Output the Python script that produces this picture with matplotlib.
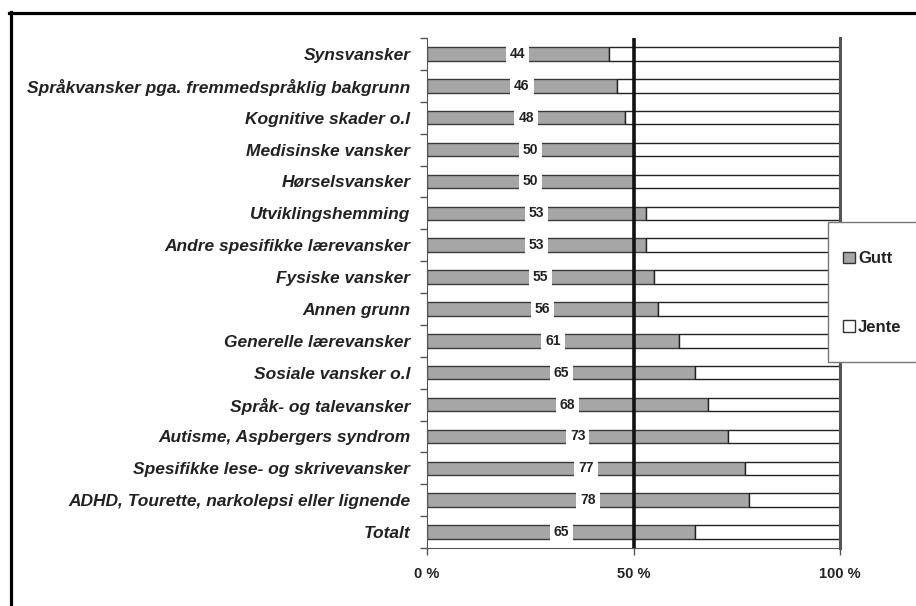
import matplotlib
matplotlib.use("Agg")
import matplotlib.pyplot as plt
from matplotlib.patches import Rectangle, Patch
from matplotlib.lines import Line2D
import numpy as np

categories = [
    "Synsvansker",
    "Språkvansker pga. fremmedspråklig bakgrunn",
    "Kognitive skader o.l",
    "Medisinske vansker",
    "Hørselsvansker",
    "Utviklingshemming",
    "Andre spesifikke lærevansker",
    "Fysiske vansker",
    "Annen grunn",
    "Generelle lærevansker",
    "Sosiale vansker o.l",
    "Språk- og talevansker",
    "Autisme, Aspbergers syndrom",
    "Spesifikke lese- og skrivevansker",
    "ADHD, Tourette, narkolepsi eller lignende",
    "Totalt",
]
gutt = [44, 46, 48, 50, 50, 53, 53, 55, 56, 61, 65, 68, 73, 77, 78, 65]
jente = [56, 54, 52, 50, 50, 47, 47, 45, 44, 39, 35, 32, 27, 23, 22, 35]
xticks = [0, 50, 100]
xticklabels = ["0 %", "50 %", "100 %"]
series_names = ["Gutt", "Jente"]

plt.rcParams['font.family'] = ['Liberation Sans', 'DejaVu Sans']
TXT = "#222222"

fig = plt.figure(figsize=(9.16, 6.06), dpi=100)
ax = fig.add_axes([427/916, 1-548/606, (840-427)/916, (548-38)/606])

n = len(categories)
y = np.arange(n)
h = 0.42
ax.barh(y, gutt, height=h, color="#a6a6a6", edgecolor="#3a3a3a", linewidth=1.0, zorder=2)
ax.barh(y, jente, left=gutt, height=h, color="white", edgecolor="#222222", linewidth=1.0, zorder=2)

for yi, g in zip(y, gutt):
    ax.text(g/2, yi, f"{g}", ha="center", va="center", fontsize=10, fontweight="bold",
            color=TXT, zorder=4,
            bbox=dict(boxstyle="square,pad=0.28", facecolor="white", edgecolor="none"))

ax.axvline(50, color="#111111", linewidth=2.6, zorder=3)

ax.set_xlim(0, 100)
ax.set_ylim(n - 0.5, -0.5)

ax.set_xticks(xticks)
ax.set_xticklabels(xticklabels, fontsize=10.5, fontweight="bold", color=TXT)
ax.tick_params(axis="x", length=5, width=1, color="#555555", pad=9)

ax.set_yticks(np.arange(-0.5, n, 1.0))
ax.set_yticklabels([])
ax.tick_params(axis="y", which="major", length=5, width=1, color="#555555")
ax.set_yticks(y, minor=True)
ax.set_yticklabels(categories, minor=True, fontsize=12.5, fontweight="bold",
                   fontstyle="italic", color=TXT)
ax.tick_params(axis="y", which="minor", length=0, pad=12)

ax.spines["top"].set_visible(False)
ax.spines["left"].set_color("#555555")
ax.spines["bottom"].set_color("#555555")
ax.spines["right"].set_color("#555555")
ax.spines["right"].set_linewidth(2.2)

# Legend box (extends past figure edge)
fig.patches.append(Rectangle((828/916, 1-362/606), 0.2, 140/606, transform=fig.transFigure,
                             facecolor="white", edgecolor="#777777", linewidth=1.0, zorder=5))
handles = [Patch(facecolor="#a6a6a6", edgecolor="#333333"),
           Patch(facecolor="white", edgecolor="#333333")]
leg = fig.legend(handles, series_names, loc="center left", bbox_to_anchor=(843/916, 1-293/606),
                 frameon=False, fontsize=12, handlelength=0.7, handleheight=0.7,
                 handletextpad=0.2, labelspacing=3.2, borderaxespad=0, borderpad=0)
for t in leg.get_texts():
    t.set_fontweight("bold")
    t.set_color(TXT)
leg.set_zorder(6)

# Outer frame fragments
fig.add_artist(Line2D([9/916, 1.0], [1-13/606, 1-13/606], transform=fig.transFigure,
                      color="black", linewidth=2.3))
fig.add_artist(Line2D([10.5/916, 10.5/916], [0, 1-12/606], transform=fig.transFigure,
                      color="black", linewidth=2.3))

fig.savefig("out.png", dpi=100)
